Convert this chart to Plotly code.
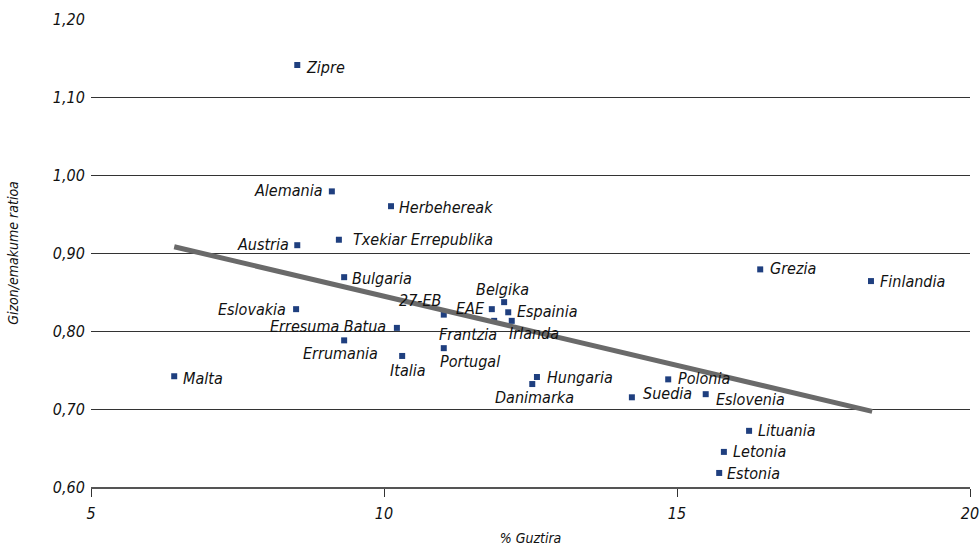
import plotly.graph_objects as go

# Countries: share (% Guztira) vs. male/female ratio
countries = ["Zipre", "Alemania", "Herbehereak", "Austria", "Txekiar Errepublika",
             "Bulgaria", "Eslovakia", "Erresuma Batua", "Errumania", "Italia",
             "27-EB", "Portugal", "EAE", "Belgika", "Espainia", "Frantzia", "Irlanda",
             "Hungaria", "Danimarka", "Malta", "Suedia", "Polonia", "Eslovenia",
             "Grezia", "Finlandia", "Lituania", "Letonia", "Estonia"]
guztira = [8.52, 9.11, 10.12, 8.52, 9.23,
           9.32, 8.50, 10.22, 9.32, 10.31,
           11.02, 11.02, 11.84, 12.05, 12.12, 11.88, 12.18,
           12.61, 12.53, 6.42, 14.23, 14.85, 15.49,
           16.42, 18.31, 16.23, 15.80, 15.72]
ratioa = [1.141, 0.979, 0.960, 0.910, 0.917,
          0.869, 0.828, 0.804, 0.788, 0.768,
          0.821, 0.778, 0.828, 0.837, 0.824, 0.813, 0.813,
          0.741, 0.732, 0.742, 0.715, 0.738, 0.719,
          0.879, 0.864, 0.672, 0.645, 0.618]

# Linear trend endpoints
trend_x = [6.42, 18.33]
trend_y = [0.908, 0.697]

x_ticks = [5, 10, 15, 20]
y_ticks = [0.60, 0.70, 0.80, 0.90, 1.00, 1.10, 1.20]

# Label placement: (xanchor, xshift px, yshift px)
placement = {
    "Zipre": ("left", 7, -2),
    "Alemania": ("right", -7, 1),
    "Herbehereak": ("left", 6, -1),
    "Austria": ("right", -6, 1),
    "Txekiar Errepublika": ("left", 12, 0),
    "Bulgaria": ("left", 6, -1),
    "Eslovakia": ("right", -8, 0),
    "Erresuma Batua": ("right", -9, 1),
    "Errumania": ("center", -4, -13),
    "Italia": ("center", 6, -15),
    "27-EB": ("right", -1, 14),
    "Portugal": ("center", 26, -13),
    "EAE": ("right", -5, 1),
    "Belgika": ("center", -2, 13),
    "Espainia": ("left", 7, 1),
    "Frantzia": ("center", -26, -14),
    "Irlanda": ("center", 22, -13),
    "Hungaria": ("left", 8, 0),
    "Danimarka": ("center", 2, -13),
    "Malta": ("left", 7, -2),
    "Suedia": ("left", 9, 4),
    "Polonia": ("left", 8, 1),
    "Eslovenia": ("left", 8, -5),
    "Grezia": ("left", 8, 1),
    "Finlandia": ("left", 7, 0),
    "Lituania": ("left", 7, 0),
    "Letonia": ("left", 7, 0),
    "Estonia": ("left", 6, -1),
}

FONT = "Liberation Sans Narrow, Arial Narrow, DejaVu Sans Condensed, sans-serif"

fig = go.Figure()

fig.add_trace(go.Scatter(
    x=guztira, y=ratioa, mode="markers",
    marker=dict(symbol="square", size=6, color="#1f3f7f"),
    hovertext=countries, showlegend=False, cliponaxis=False,
))

fig.add_trace(go.Scatter(
    x=trend_x, y=trend_y, mode="lines",
    line=dict(color="#6a6a6a", width=5), showlegend=False,
))

annotations = []
for name, xv, yv in zip(countries, guztira, ratioa):
    anchor, dx, dy = placement[name]
    annotations.append(dict(
        x=xv, y=yv, xref="x", yref="y", text=f"<i>{name}</i>",
        showarrow=False, xanchor=anchor, yanchor="middle",
        xshift=dx, yshift=dy,
        font=dict(family=FONT, size=16, color="#111111"),
    ))

fig.update_layout(
    width=980, height=546,
    margin=dict(l=91, r=10, t=19, b=59),
    paper_bgcolor="white", plot_bgcolor="white",
    separators=",.",
    annotations=annotations,
    font=dict(family=FONT, color="#111111"),
    xaxis=dict(
        range=[5, 20], tickvals=x_ticks, ticktext=[f"<i>{v}</i>" for v in x_ticks],
        automargin=False,
        showgrid=False, zeroline=False,
        showline=True, linecolor="#555555", linewidth=1.5,
        ticks="outside", ticklen=8, tickcolor="#333333", tickwidth=1,
        ticklabelstandoff=3,
        tickfont=dict(family=FONT, size=16, color="#111111"),
        title=dict(text="<i>% Guztira</i>", font=dict(family=FONT, size=14, color="#111111"),
                   standoff=18),
    ),
    yaxis=dict(
        range=[0.60, 1.20], tickvals=y_ticks,
        automargin=False,
        ticktext=[f"<i>{v:.2f}</i>".replace(".", ",") for v in y_ticks],
        showgrid=True, gridcolor="#333333", gridwidth=1,
        zeroline=False, showline=False,
        ticks="outside", ticklen=2, tickcolor="rgba(0,0,0,0)",
        tickfont=dict(family=FONT, size=16, color="#111111"),
        title=dict(text="<i>Gizon/emakume ratioa</i>", font=dict(family=FONT, size=14, color="#111111"),
                   standoff=30),
    ),
)

fig.write_html("out.html")
